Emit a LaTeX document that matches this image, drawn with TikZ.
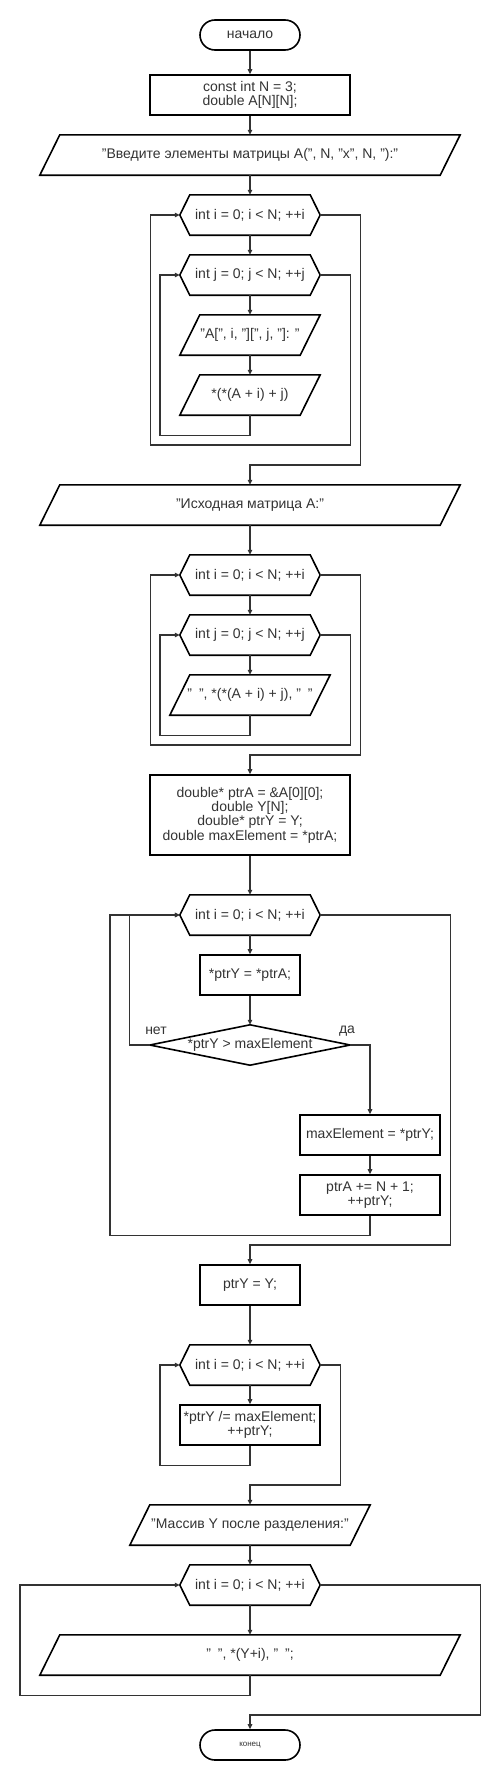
\documentclass[tikz,border=0pt]{standalone}
\usepackage{fontspec}
\setmainfont{Liberation Sans}
\usetikzlibrary{arrows.meta,calc}
\definecolor{ln}{HTML}{333333}
\definecolor{tx}{HTML}{333333}
\newcommand\hexo[1]{\draw[outl] (#1.west) -- ([xshift=10pt]#1.north west) -- ([xshift=-10pt]#1.north east) -- (#1.east) -- ([xshift=-10pt]#1.south east) -- ([xshift=10pt]#1.south west) -- cycle;}
\newcommand\parao[1]{\draw[outl] ([xshift=20pt]#1.north west) -- (#1.north east) -- ([xshift=-20pt]#1.south east) -- (#1.south west) -- cycle;}
\newcommand\gapsp{\hspace{7pt}}
\begin{document}
\begin{tikzpicture}[x=1pt,y=-1pt,
  every node/.style={font=\fontsize{14}{14.4}\selectfont, text=tx, inner sep=0pt, align=center},
  blk/.style={draw=black, line width=1.6pt, minimum height=40pt},
  ghost/.style={minimum height=40pt},
  term/.style={draw=black, line width=1.6pt, rounded corners=15pt, minimum width=100pt, minimum height=30pt},
  conn/.style={draw=ln, line width=1.1pt},
  arr/.style={conn, -{Triangle[length=5pt,width=4.5pt]}},
  outl/.style={draw=black, line width=1.6pt, line join=miter},
  lbl/.style={font=\fontsize{14}{14}\selectfont}
]
\useasboundingbox (0,0) rectangle (500,1780);

% nodes
\node[term] (start) at (250,35) {начало};
\node[blk, minimum width=200pt] (b1) at (250,95) {const int N = 3;\\double A[N][N];};
\node[ghost, minimum width=420pt] (p1) at (250,155) {"Введите элементы матрицы A(", N, "x", N, "):"};
\node[ghost, minimum width=140pt] (h1) at (250,215) {int i = 0; i < N; ++i};
\node[ghost, minimum width=140pt] (h2) at (250,275) {int j = 0; j < N; ++j};
\node[ghost, minimum width=140pt] (p2) at (250,335) {"A[", i, "][", j, "]: "};
\node[ghost, minimum width=140pt] (p3) at (250,395) {*(*(A + i) + j)};

\node[ghost, minimum width=420pt] (p4) at (250,505) {"Исходная матрица A:"};
\node[ghost, minimum width=140pt] (h3) at (250,575) {int i = 0; i < N; ++i};
\node[ghost, minimum width=140pt] (h4) at (250,635) {int j = 0; j < N; ++j};
\node[ghost, minimum width=160pt] (p5) at (250,695) {"\gapsp", *(*(A + i) + j), "\gapsp"};

\node[blk, minimum width=200pt, minimum height=80pt] (b2) at (250,815) {double* ptrA = \&A[0][0];\\double Y[N];\\double* ptrY = Y;\\double maxElement = *ptrA;};
\node[ghost, minimum width=140pt] (h5) at (250,915) {int i = 0; i < N; ++i};
\node[blk, minimum width=100pt] (b3) at (250,975) {*ptrY = *ptrA;};
\node[ghost, minimum width=200pt] (d1) at (250,1045) {*ptrY > maxElement};
\node[blk, minimum width=140pt] (b4) at (370,1135) {maxElement = *ptrY;};
\node[blk, minimum width=140pt] (b5) at (370,1195) {ptrA += N + 1;\\++ptrY;};
\node[lbl] (no) at (156,1031) {нет};
\node[lbl] (yes) at (347,1031) {да};

\node[blk, minimum width=100pt] (b6) at (250,1285) {ptrY = Y;};
\node[ghost, minimum width=140pt] (h6) at (250,1365) {int i = 0; i < N; ++i};
\node[blk, minimum width=140pt] (b7) at (250,1425) {*ptrY /= maxElement;\\++ptrY;};
\node[ghost, minimum width=240pt] (p6) at (250,1525) {"Массив Y после разделения:"};
\node[ghost, minimum width=140pt] (h7) at (250,1585) {int i = 0; i < N; ++i};
\node[ghost, minimum width=420pt] (p7) at (250,1655) {"\gapsp", *(Y+i), "\gapsp";};
\node[term, font=\fontsize{8}{8}\selectfont] (end) at (250,1745) {конец};

% outlines
\parao{p1}\parao{p2}\parao{p3}\parao{p4}\parao{p5}\parao{p6}\parao{p7}
\hexo{h1}\hexo{h2}\hexo{h3}\hexo{h4}\hexo{h5}\hexo{h6}\hexo{h7}
\draw[outl] (d1.north) -- (d1.east) -- (d1.south) -- (d1.west) -- cycle;

% straight connectors
\foreach \a/\b in {start/b1, b1/p1, p1/h1, h1/h2, h2/p2, p2/p3, p4/h3, h3/h4, h4/p5, b2/h5, h5/b3, b3/d1, b4/b5, b6/h6, h6/b7, p6/h7, h7/p7}
  \draw[arr] (\a.south) -- (\b.north);

% loops section 1
\draw[arr] (p3.south) -- ++(0,20) -- ++(-90,0) |- (h2.west);
\draw[arr] (h2.east) -- ++(30,0) -- ++(0,170) -- ++(-200,0) |- (h1.west);
\draw[arr] (h1.east) -- ++(40,0) -- ++(0,250) -| (p4.north);
% section 2
\draw[arr] (p5.south) -- ++(0,20) -- ++(-90,0) |- (h4.west);
\draw[arr] (h4.east) -- ++(30,0) -- ++(0,110) -- ++(-200,0) |- (h3.west);
\draw[arr] (h3.east) -- ++(40,0) -- ++(0,180) -| (b2.north);
% section 3
\draw[arr] (d1.west) -- ++(-20,0) |- (h5.west);
\draw[arr] (d1.east) -| (b4.north);
\draw[arr] (b5.south) -- ++(0,20) -- ++(-260,0) |- (h5.west);
\draw[arr] (h5.east) -- ++(130,0) -- ++(0,330) -| (b6.north);
% section 4
\draw[arr] (b7.south) -- ++(0,20) -- ++(-90,0) |- (h6.west);
\draw[arr] (h6.east) -- ++(20,0) -- ++(0,120) -| (p6.north);
\draw[arr] (p7.south) -- ++(0,20) -- ++(-230,0) |- (h7.west);
\draw[arr] (h7.east) -- ++(160,0) -- ++(0,130) -| (end.north);
\end{tikzpicture}
\end{document}
